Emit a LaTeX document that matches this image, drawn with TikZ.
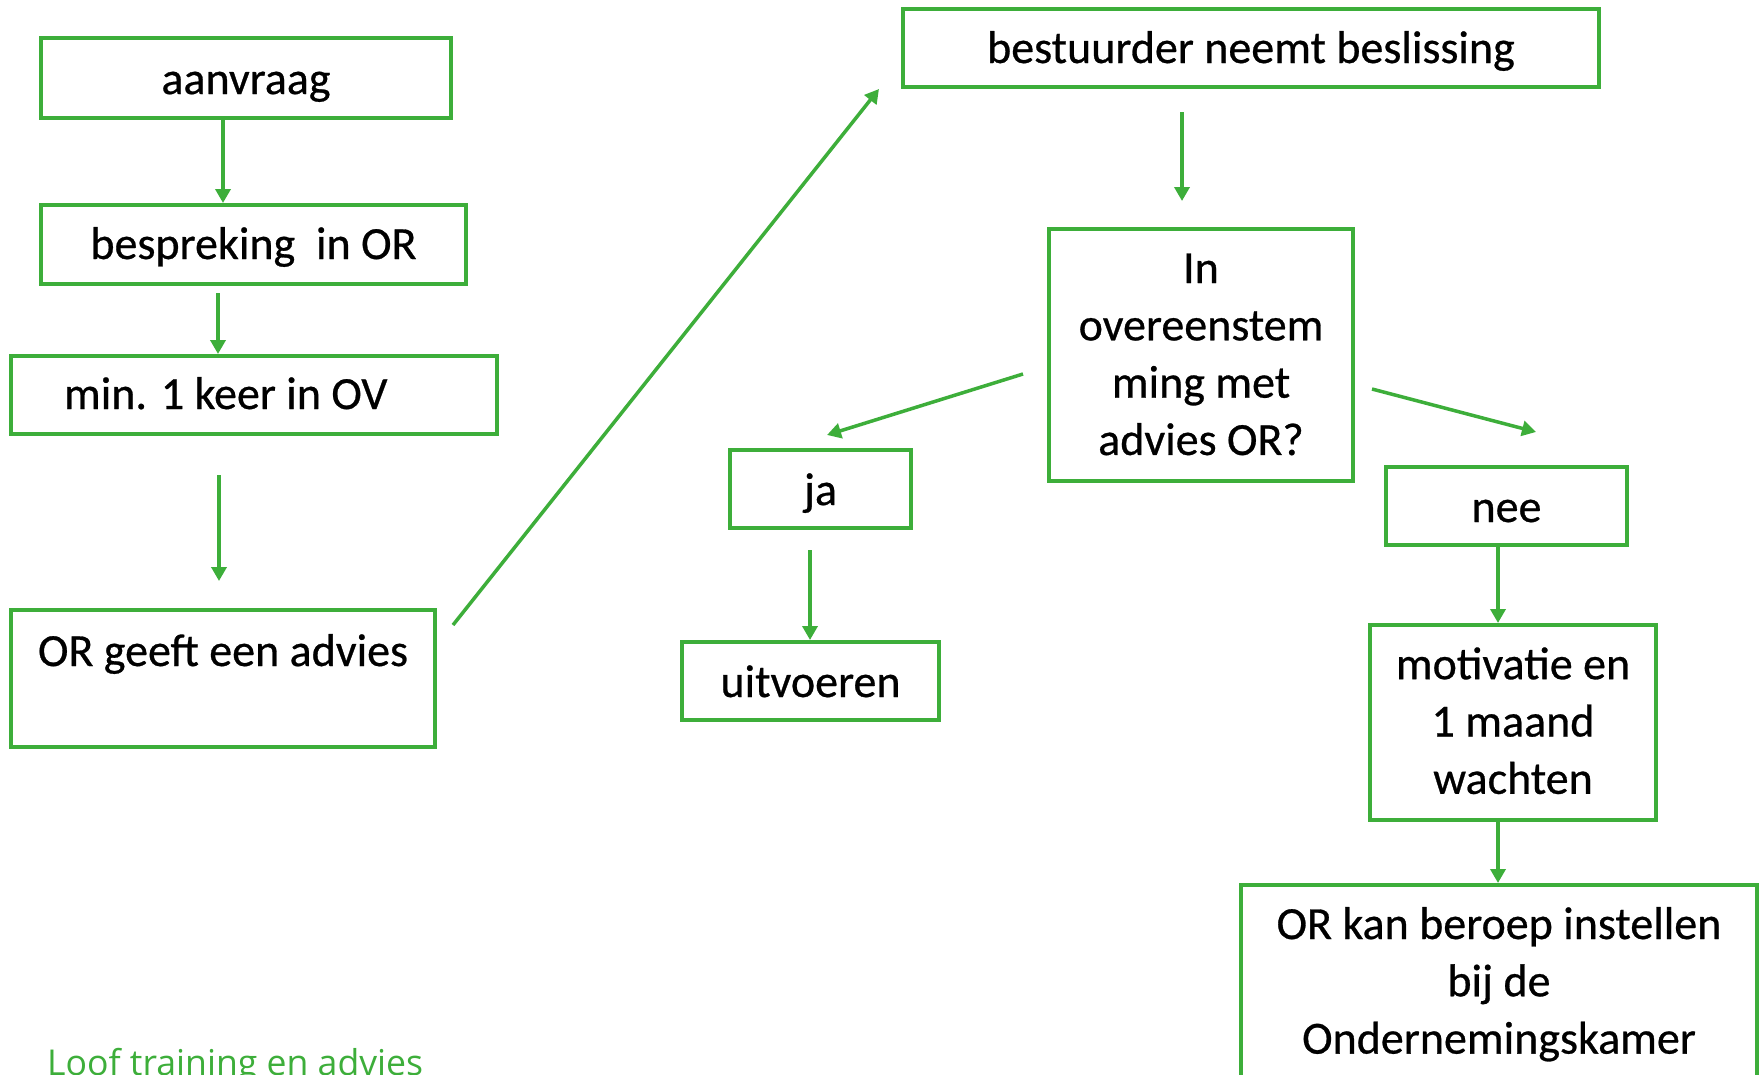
\documentclass[tikz,border=0pt]{standalone}
\usepackage{fontspec}
\setmainfont{Carlito}
\newfontfamily\boxfont{Carlito}[FakeBold=0.6]
\newfontfamily\footfont{Open Sans}
\usetikzlibrary{arrows.meta}
\definecolor{lgreen}{RGB}{61,174,58}
\begin{document}
\begin{tikzpicture}[x=1pt,y=-1pt,
  box/.style={draw=lgreen, line width=4pt, inner ysep=0pt, font=\boxfont\fontsize{46}{57.3}\selectfont, align=center, anchor=north west},
  arr/.style={draw=lgreen, line width=3.5pt, -{Triangle[length=14pt,width=15pt]}}]
\useasboundingbox (0,0) rectangle (1761,1074);
\clip (0,0) rectangle (1761,1074);
\fill[white] (0,0) rectangle (1761,1074);

\node[box, minimum width=410pt, text height=56pt, text depth=24pt] (aanv) at (39,36) {aanvraag};
\node[box, minimum width=425pt, text height=54pt, text depth=25pt] (besp) at (39,203) {bespreking~ in OR};
\node[box, minimum width=486pt, inner xsep=53pt, text height=53pt, text depth=25pt] (minov) at (9,354) {\makebox[380pt][l]{min. 1 keer in OV}};
\node[box, minimum width=424pt, text height=56pt, text depth=81pt] (orgeeft) at (9,608) {OR geeft een advies};
\node[box, minimum width=696pt, text height=54pt, text depth=24pt] (best) at (901,7) {bestuurder neemt beslissing};
\node[box, minimum width=304pt, minimum height=252pt] (ovr) at (1047,227) {\rule{0pt}{54pt}In\\overeenstem\\ming met\\advies OR?\rule[-26pt]{0pt}{26pt}};
\node[box, minimum width=181pt, text height=55pt, text depth=23pt] (ja) at (728,448) {ja};
\node[box, minimum width=257pt, text height=55pt, text depth=23pt] (uitv) at (680,640) {uitvoeren};
\node[box, minimum width=241pt, text height=55pt, text depth=23pt] (nee) at (1384,465) {nee};
\node[box, minimum width=286pt, minimum height=195pt] (motiv) at (1368,623) {\rule{0pt}{54pt}motivatie en\\1 maand\\wachten\rule[-26pt]{0pt}{26pt}};
\node[box, minimum width=516pt, minimum height=194pt] (orkan) at (1239,883) {\rule{0pt}{54pt}OR kan beroep instellen\\bij de\\Ondernemingskamer\rule[-26pt]{0pt}{26pt}};

\node[font=\footfont\fontsize{35.6}{40}\selectfont, text=lgreen, anchor=base west, inner sep=0pt] (foot) at (47,1075) {Loof training en advies};

\draw[arr] ([xshift=-23pt]aanv.south) -- ([xshift=-23pt]aanv.south |- besp.north);
\draw[arr] ([xshift=-35.5pt,yshift=-7pt]besp.south) -- ([xshift=-35.5pt]besp.south |- minov.north);
\draw[arr] ([xshift=-35pt,yshift=-39pt]minov.south) -- ([xshift=-35pt,yshift=27pt]minov.south |- orgeeft.north);
\draw[arr] ([xshift=16pt,yshift=-17pt]orgeeft.north east) -- ([xshift=-22pt]best.south west);
\draw[arr] ([xshift=-69pt,yshift=-23pt]best.south) -- ([xshift=-19pt,yshift=26pt]ovr.north);
\draw[arr] ([xshift=-24pt,yshift=-19pt]ovr.west) -- ([xshift=6.5pt,yshift=13pt]ja.north);
\draw[arr] ([xshift=17pt,yshift=-34pt]ovr.east) -- ([xshift=29.5pt,yshift=33pt]nee.north);
\draw[arr] ([xshift=-10.5pt,yshift=-20pt]ja.south) -- ([xshift=-10.5pt]ja.south |- uitv.north);
\draw[arr] ([xshift=-8.5pt]nee.south) -- ([xshift=-8.5pt]nee.south |- motiv.north);
\draw[arr] ([xshift=-15pt]motiv.south) -- ([xshift=-15pt]motiv.south |- orkan.north);
\end{tikzpicture}
\end{document}
